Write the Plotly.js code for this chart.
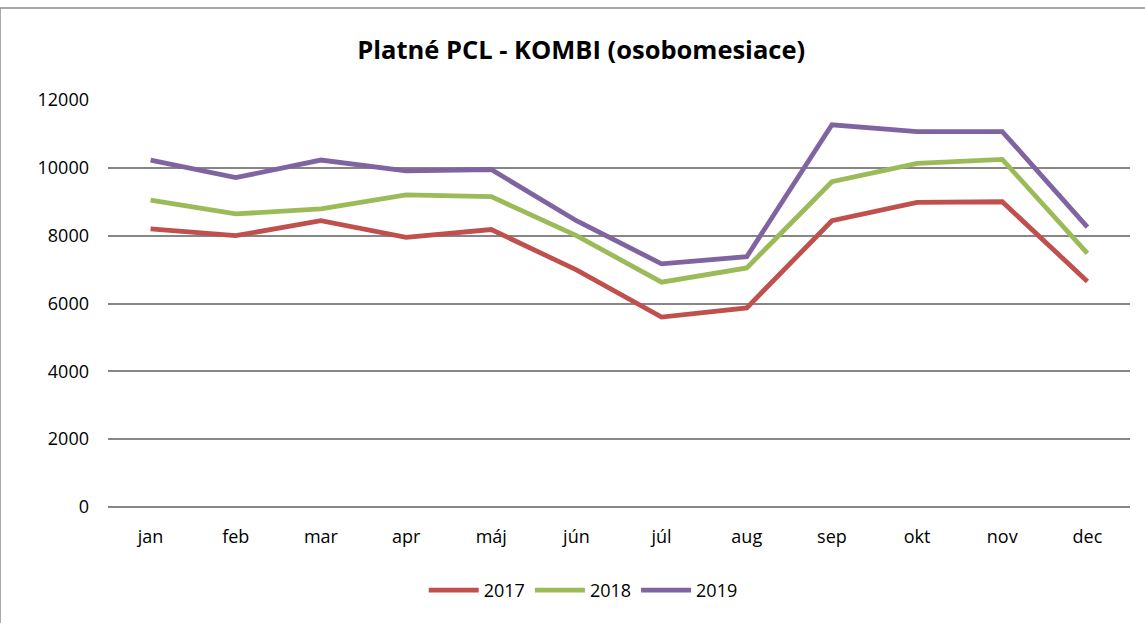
<!DOCTYPE html>
<html>
<head>
<meta charset="utf-8">
<script src="https://cdn.plot.ly/plotly-3.0.1.min.js"></script>
<style>html,body{margin:0;padding:0;background:#fff;} #chart{width:1145px;height:623px;}</style>
</head>
<body>
<div id="chart"></div>
<script>
const months = ["jan","feb","mar","apr","máj","jún","júl","aug","sep","okt","nov","dec"];
const y2017 = [8200, 8000, 8440, 7950, 8180, 6990, 5600, 5870, 8440, 8980, 9000, 6650];
const y2018 = [9050, 8640, 8790, 9200, 9150, 8000, 6630, 7050, 9590, 10130, 10250, 7480];
const y2019 = [10230, 9710, 10230, 9910, 9950, 8440, 7170, 7380, 11270, 11070, 11070, 8250];
const seriesNames = ["2017", "2018", "2019"];
const colors = ["#C0504D", "#9BBB59", "#8064A2"];
const yTicks = [0, 2000, 4000, 6000, 8000, 10000, 12000];

const allSeries = [y2017, y2018, y2019];
const traces = allSeries.map((vals, i) => ({
  type: "scatter",
  mode: "lines",
  x: months,
  y: vals,
  name: seriesNames[i],
  line: {color: colors[i], width: 4.8},
  hoverinfo: "x+y+name"
}));

const layout = {
  width: 1145,
  height: 623,
  paper_bgcolor: "#ffffff",
  plot_bgcolor: "#ffffff",
  margin: {l: 108, r: 15, t: 100, b: 116},
  font: {family: "Open Sans, sans-serif", size: 18, color: "#000"},
  title: {
    text: "<b>Platné PCL - KOMBI (osobomesiace)</b>",
    font: {family: "Open Sans, sans-serif", size: 25.5, color: "#000"},
    x: 0.463, xanchor: "center", xref: "paper",
    y: 50, yref: "container", yanchor: "middle"
  },
  xaxis: {
    type: "category",
    range: [-0.5, 11.5],
    showgrid: false,
    zeroline: false,
    showline: false,
    ticks: "",
    tickfont: {size: 18},
    ticklabelstandoff: 17
  },
  yaxis: {
    range: [0, 12000],
    tickvals: yTicks,
    ticktext: yTicks.map(String),
    showgrid: true,
    gridcolor: "#868686",
    gridwidth: 2,
    zeroline: true,
    zerolinecolor: "#868686",
    zerolinewidth: 2,
    showline: false,
    ticks: "",
    ticklabelstandoff: 18,
    tickfont: {size: 18}
  },
  showlegend: true,
  legend: {
    orientation: "h",
    x: 0.465, xanchor: "center",
    y: -0.205, yanchor: "middle",
    font: {size: 18},
    itemwidth: 50,
    traceorder: "normal"
  },
  shapes: [
    {type: "line", xref: "paper", yref: "paper", x0: -108/1022, x1: -108/1022, y0: 1 + 92/407, y1: -0.5, line: {color: "#8c8c8c", width: 1.5}},
    {type: "line", xref: "paper", yref: "paper", x0: -108/1022, x1: 1.2, y0: 1 + 92/407, y1: 1 + 92/407, line: {color: "#8c8c8c", width: 1.5}}
  ]
};

Plotly.newPlot("chart", traces, layout, {displayModeBar: false, staticPlot: true});
</script>
</body>
</html>
